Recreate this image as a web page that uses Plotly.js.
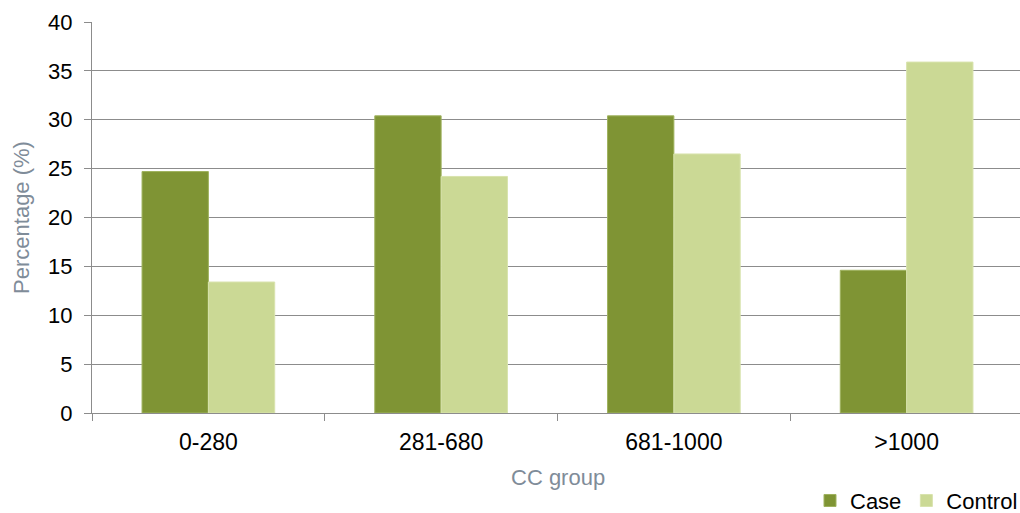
<!DOCTYPE html>
<html>
<head>
<meta charset="utf-8">
<script src="https://cdn.plot.ly/plotly-3.0.1.min.js"></script>
<style>
  html, body { margin: 0; padding: 0; background: #fff; overflow: hidden; }
  #chart { width: 1023px; height: 513px; }
</style>
</head>
<body>
<div id="chart"></div>
<script>
// CC groups and the share (%) of cases and controls in each
const groups = ['0-280', '281-680', '681-1000', '>1000'];
const caseValues = [24.7, 30.4, 30.4, 14.6];
const controlValues = [13.4, 24.2, 26.5, 35.9];
const yTicks = [0, 5, 10, 15, 20, 25, 30, 35, 40];
const xTitle = 'CC group';
const yTitle = 'Percentage (%)';

const fontFamily = 'Liberation Sans, Arial, sans-serif';
const axisGrey = '#8c8c8c';
const titleGrey = '#7f8c99';

const traces = [
  {
    type: 'bar',
    name: 'Case',
    x: groups,
    y: caseValues,
    marker: { color: '#7f9434', line: { color: '#9fb25e', width: 1 } },
    hoverinfo: 'x+y'
  },
  {
    type: 'bar',
    name: 'Control',
    x: groups,
    y: controlValues,
    marker: { color: '#cbd995', line: { color: '#d8e3ad', width: 1 } },
    hoverinfo: 'x+y'
  }
];

const layout = {
  width: 1023,
  height: 513,
  margin: { l: 92, r: 0, t: 22, b: 100, autoexpand: false },
  paper_bgcolor: '#ffffff',
  plot_bgcolor: '#ffffff',
  barmode: 'group',
  bargap: 0.43,
  bargroupgap: 0,
  font: { family: fontFamily, size: 22, color: '#000000' },
  xaxis: {
    type: 'category',
    tickson: 'boundaries',
    ticks: 'outside',
    ticklen: 7,
    tickcolor: axisGrey,
    showline: true,
    linecolor: axisGrey,
    linewidth: 1,
    showgrid: false,
    ticklabelstandoff: 8,
    tickfont: { family: fontFamily, size: 23, color: '#000000' }
  },
  yaxis: {
    range: [0, 40],
    tickvals: yTicks,
    ticktext: yTicks.map(String),
    ticks: 'outside',
    ticklen: 7,
    tickcolor: axisGrey,
    showline: true,
    linecolor: axisGrey,
    linewidth: 1,
    showgrid: true,
    gridcolor: axisGrey,
    gridwidth: 1,
    zeroline: false,
    ticklabelstandoff: 7,
    tickfont: { family: fontFamily, size: 22, color: '#000000' },
    title: {
      text: yTitle,
      font: { family: fontFamily, size: 22, color: titleGrey },
      standoff: 12
    }
  },
  // x-axis title placed a little lower than the default axis title slot
  annotations: [
    {
      text: xTitle,
      xref: 'paper',
      yref: 'paper',
      x: 0.5,
      y: -0.166,
      xanchor: 'center',
      yanchor: 'middle',
      showarrow: false,
      font: { family: fontFamily, size: 22, color: titleGrey }
    }
  ],
  legend: {
    orientation: 'h',
    xref: 'container',
    yref: 'container',
    x: 1.0,
    xanchor: 'right',
    y: 0.024,
    yanchor: 'middle',
    font: { family: fontFamily, size: 22, color: '#000000' },
    itemwidth: 30,
    traceorder: 'normal'
  },
  showlegend: true
};

Plotly.newPlot('chart', traces, layout, { displayModeBar: false, staticPlot: true });
</script>
</body>
</html>
